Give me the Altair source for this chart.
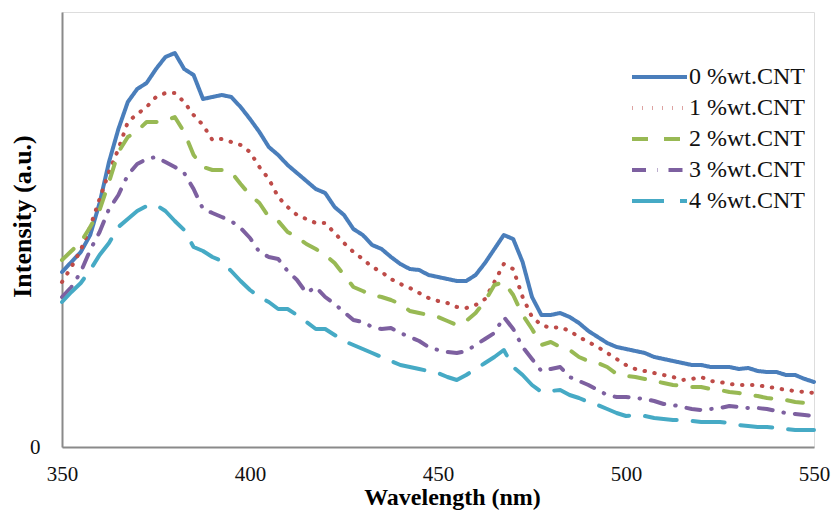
import altair as alt
import pandas as pd

# x grid (nm)
wavelength = [350 + 2.5 * i for i in range(81)]

series_names = ["0 %wt.CNT", "1 %wt.CNT", "2 %wt.CNT", "3 %wt.CNT", "4 %wt.CNT"]

cnt0 = [175, 185, 195, 212, 244, 285, 318, 345, 358, 364, 378, 390, 394, 378, 372, 348,
        350, 352, 350, 340, 328, 315, 300, 292, 282, 274, 266, 258, 254, 240, 232, 218,
        212, 202, 198, 190, 183, 178, 177, 172, 170, 168, 166, 166, 172, 184, 198, 212,
        208, 185, 150, 132, 132, 134, 130, 124, 116, 110, 104, 100, 98, 96, 94, 90,
        88, 86, 84, 82, 82, 80, 80, 80, 78, 79, 76, 75, 75, 72, 72, 68, 65]
cnt1 = [165, 180, 197, 220, 248, 275, 298, 325, 333, 340, 350, 354, 354, 345, 332, 322,
        307, 308, 305, 302, 295, 280, 268, 250, 240, 232, 228, 224, 224, 214, 204, 195,
        188, 180, 175, 168, 163, 159, 154, 149, 146, 144, 140, 139, 142, 148, 165, 183,
        178, 150, 130, 122, 119, 120, 116, 110, 105, 100, 94, 88, 82, 78, 76, 74,
        72, 70, 67, 68, 70, 66, 65, 63, 62, 62, 62, 60, 59, 57, 56, 55, 54]
cnt2 = [187, 196, 205, 220, 237, 265, 295, 310, 316, 325, 325, 326, 330, 315, 292, 280,
        277, 277, 275, 263, 252, 244, 230, 226, 215, 210, 203, 198, 192, 184, 172, 160,
        156, 152, 150, 147, 143, 136, 134, 132, 130, 126, 122, 126, 134, 146, 162, 165,
        152, 132, 118, 102, 105, 100, 97, 90, 86, 84, 80, 73, 71, 70, 68, 66,
        64, 62, 61, 60, 60, 58, 57, 55, 54, 52, 51, 49, 48, 47, 45, 44, 43]
cnt3 = [150, 160, 175, 197, 215, 238, 252, 272, 283, 288, 290, 285, 280, 274, 258, 238,
        234, 230, 226, 219, 209, 195, 190, 188, 176, 167, 154, 160, 150, 143, 135, 127,
        125, 120, 118, 119, 114, 110, 106, 100, 97, 95, 94, 96, 102, 108, 114, 130,
        118, 100, 88, 76, 78, 80, 70, 66, 62, 57, 52, 50, 50, 49, 48, 46,
        43, 42, 40, 38, 37, 38, 39, 41, 40, 39, 39, 38, 36, 34, 33, 32, 31]
cnt4 = [145, 155, 164, 177, 192, 204, 220, 228, 236, 241, 242, 236, 226, 217, 200, 196,
        190, 186, 176, 166, 157, 150, 145, 138, 138, 132, 125, 118, 118, 112, 106, 102,
        98, 94, 90, 86, 82, 80, 78, 76, 74, 70, 67, 72, 78, 84, 90, 97,
        80, 72, 62, 55, 56, 57, 52, 49, 45, 42, 38, 34, 31, 32, 31, 29,
        28, 27, 27, 26, 25, 25, 25, 24, 22, 21, 20, 20, 19, 18, 17, 17, 17]

colors = ["#4A7EBB", "#BE4B48", "#98B954", "#7D60A0", "#46AAC5"]
dashes = [[1, 0], [0.5, 9.5], [16, 16], [14, 11, 0.5, 11], [32, 16]]

rows = []
for name, vals in zip(series_names, [cnt0, cnt1, cnt2, cnt3, cnt4]):
    for w, v in zip(wavelength, vals):
        rows.append({"wavelength": w, "intensity": v, "series": name})
df = pd.DataFrame(rows)

FONT = "'Liberation Serif', 'Times New Roman', Times, serif"

legend = alt.Legend(
    title=None,
    orient="none",
    legendX=568,
    legendY=52,
    padding=0,
    symbolType="M-1,0L4,0",
    symbolSize=484,
    symbolStrokeWidth=4,
    labelOffset=33,
    labelFont=FONT,
    labelFontSize=24,
    labelColor="#111",
    rowPadding=6,
    labelLimit=300,
)

chart = (
    alt.Chart(df)
    .mark_line(strokeWidth=4, strokeCap="round", strokeJoin="round")
    .encode(
        x=alt.X(
            "wavelength:Q",
            title="Wavelength (nm)",
            scale=alt.Scale(domain=[350, 550], nice=False, zero=False),
            axis=alt.Axis(
                values=[350, 400, 450, 500, 550],
                ticks=False,
                grid=False,
                labelFlush=False,
                domainColor="#8a8a8a",
                domainWidth=2,
                labelFont=FONT,
                labelFontSize=21,
                labelColor="#111",
                labelPadding=16,
                titleFont=FONT,
                titleFontSize=24,
                titleFontWeight="bold",
                titleColor="#000",
                titleX=390,
                titleY=57,
                titleBaseline="alphabetic",
            ),
        ),
        y=alt.Y(
            "intensity:Q",
            title="Intensity (a.u.)",
            scale=alt.Scale(domain=[0, 435], nice=False),
            axis=alt.Axis(
                values=[0],
                ticks=False,
                grid=False,
                labelFlush=False,
                domainColor="#8a8a8a",
                domainWidth=2,
                labelFont=FONT,
                labelFontSize=21,
                labelColor="#111",
                labelPadding=22,
                titleFont=FONT,
                titleFontSize=26,
                titleFontWeight="bold",
                titleColor="#000",
                titleX=-40,
                titleY=204,
                titleBaseline="middle",
            ),
        ),
        color=alt.Color(
            "series:N",
            scale=alt.Scale(domain=series_names, range=colors),
            legend=legend,
        ),
        strokeDash=alt.StrokeDash(
            "series:N",
            scale=alt.Scale(domain=series_names, range=dashes),
            legend=legend,
        ),
        order=alt.Order("wavelength:Q"),
    )
    .properties(
        width=752,
        height=435,
        autosize=alt.AutoSizeParams(type="none"),
        padding={"left": 54, "top": 4, "right": 17, "bottom": 65},
    )
    .configure_view(stroke=None)
    .configure(background="white")
)

chart.save("out.html", embed_options={"renderer": "svg", "actions": False})
